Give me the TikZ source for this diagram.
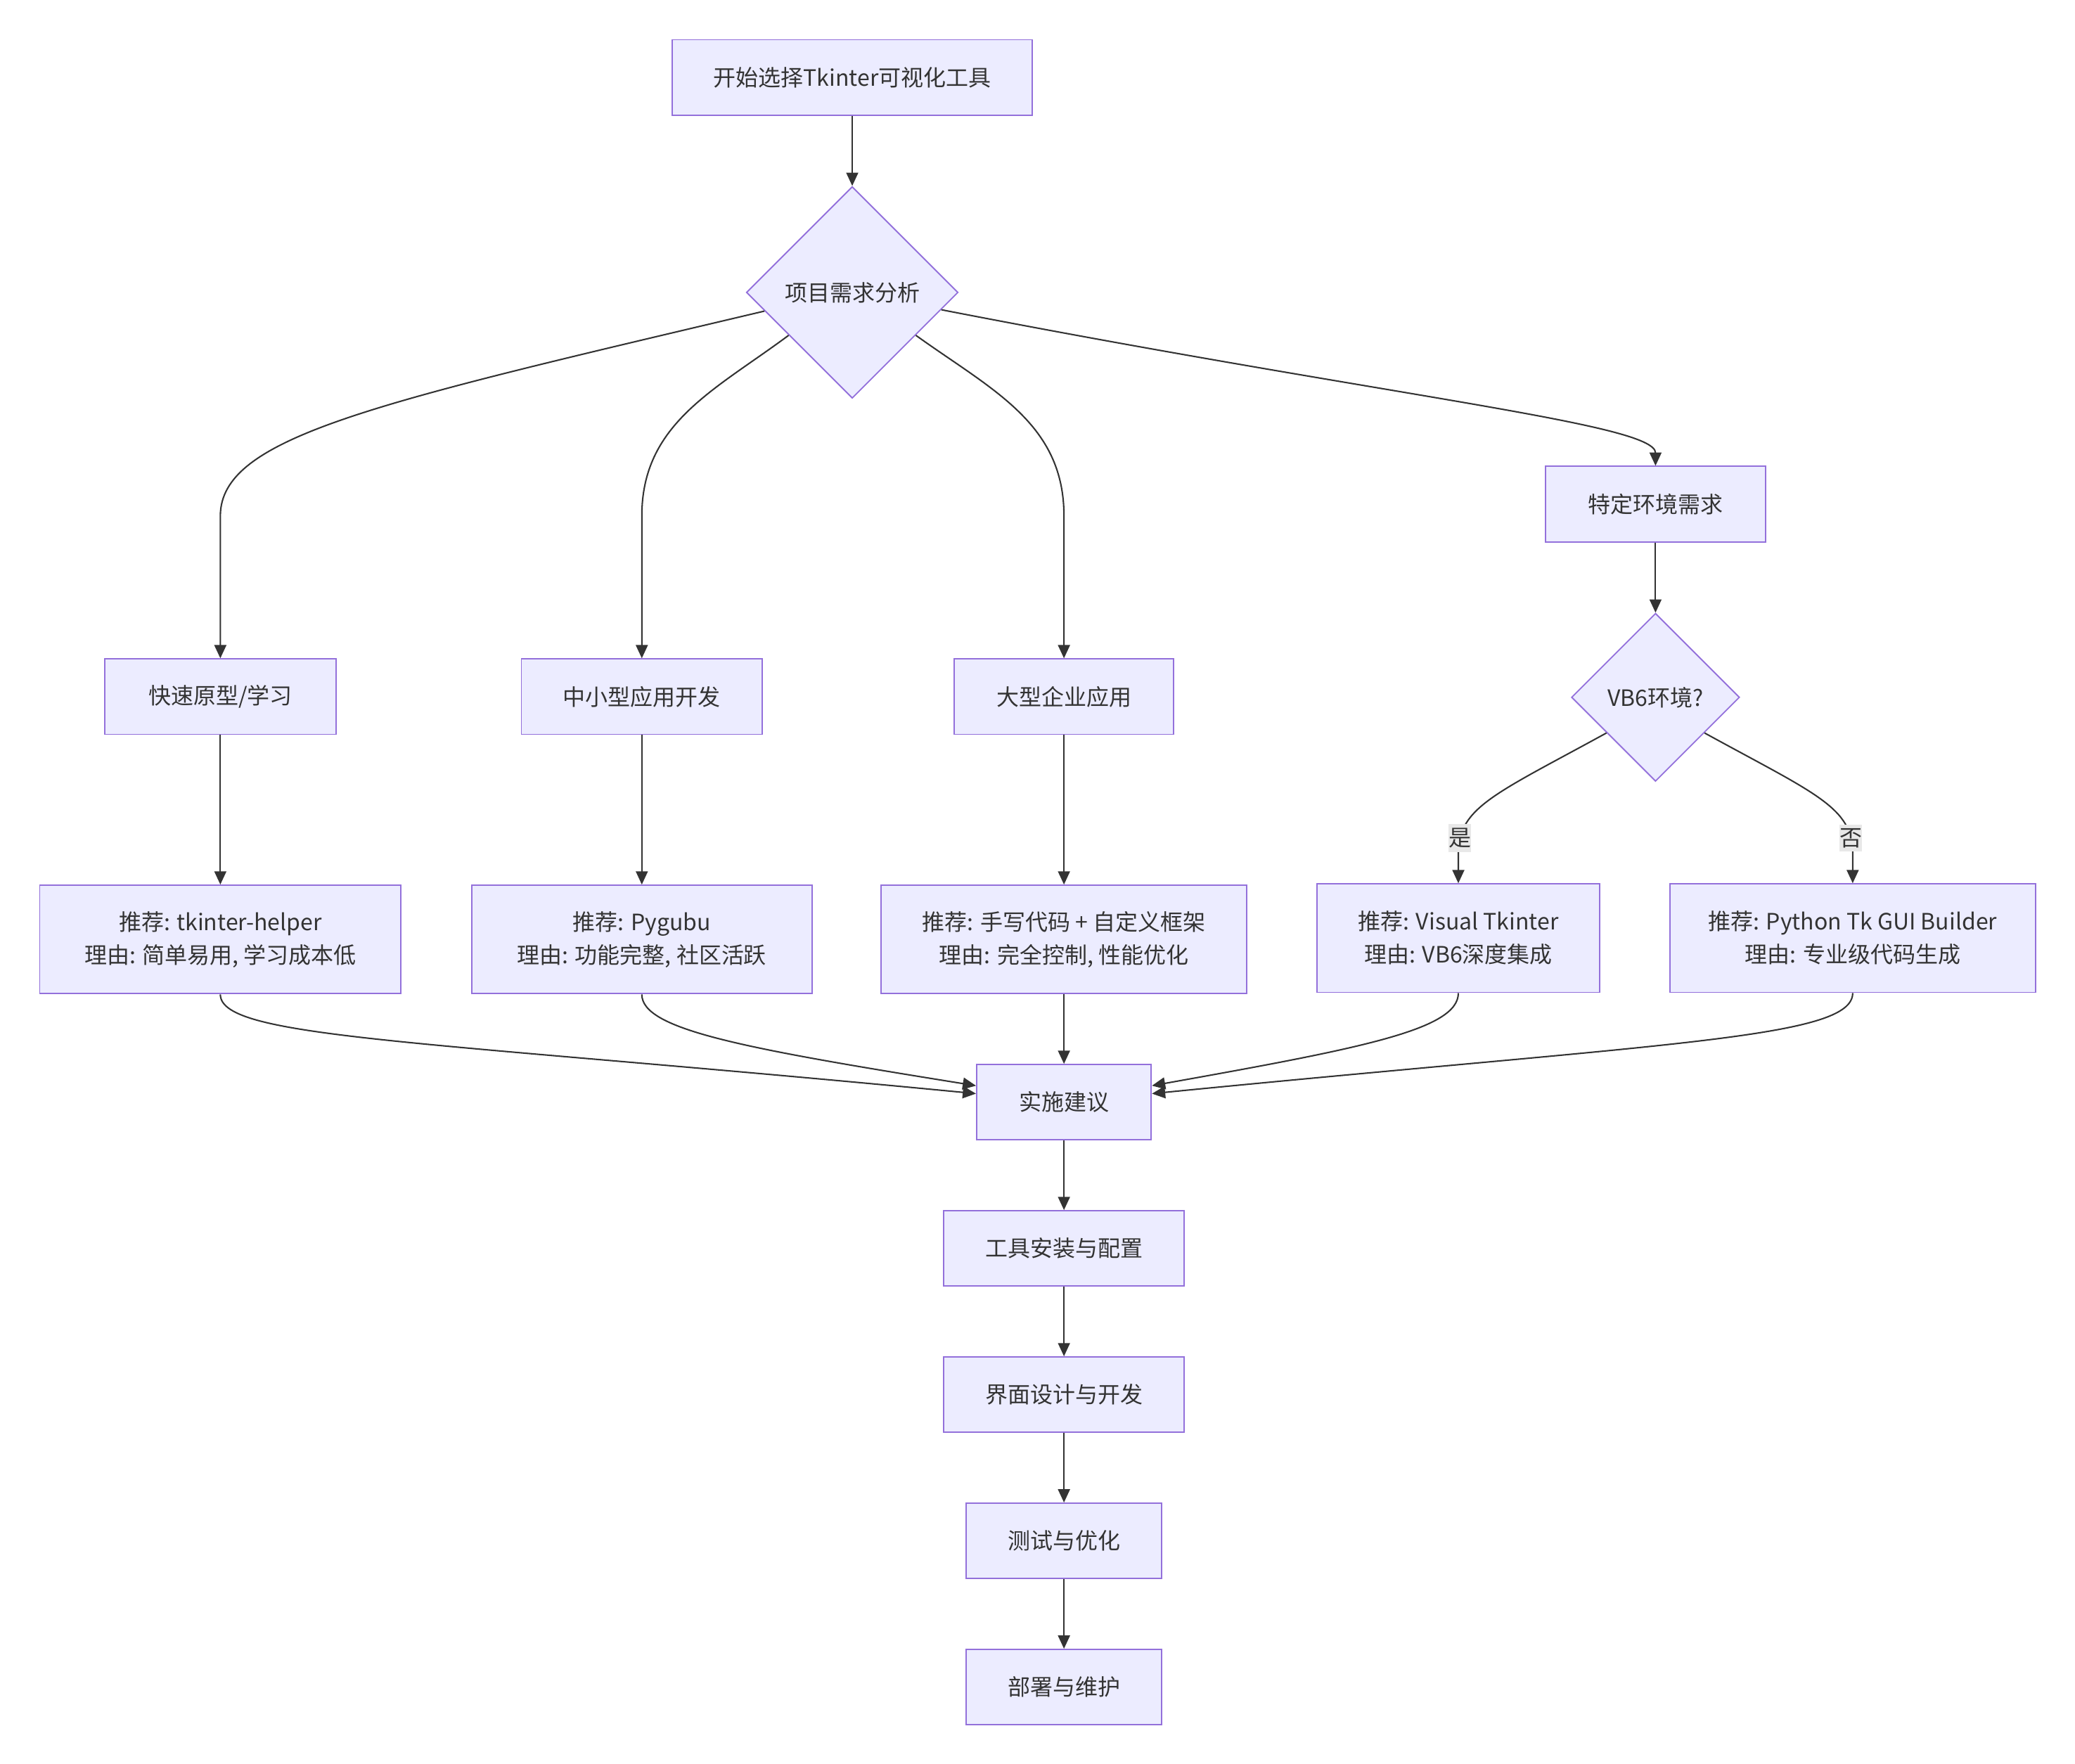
\documentclass[tikz,border=0pt]{standalone}
\usepackage{fontspec}
\setmainfont{Noto Sans CJK SC}
\usetikzlibrary{positioning,shapes.geometric,arrows.meta}
\definecolor{boxfill}{HTML}{ECECFF}
\definecolor{boxline}{HTML}{9370DB}
\definecolor{linkline}{HTML}{333333}
\definecolor{labelbg}{HTML}{E8E8E8}
\begin{document}
\begin{tikzpicture}[x=1pt,y=1pt,->,>={Triangle[length=10pt,width=9pt]},
    line width=1.1pt,draw=linkline,
    step node/.style={rectangle,draw=boxline,fill=boxfill,line width=1pt,minimum height=57pt,
      text=linkline,font=\fontsize{17}{25}\selectfont},
    advice node/.style={step node,minimum height=82pt,align=center},
    decision node/.style={diamond,draw=boxline,fill=boxfill,line width=1pt,inner sep=0pt,
      text=linkline,font=\fontsize{17}{25}\selectfont},
    edge label/.style={fill=labelbg,text=linkline,inner xsep=0pt,inner ysep=3pt,
      font=\fontsize{17}{20}\selectfont}]
\useasboundingbox (0,0) rectangle (1568,-1333);

\node[step node,minimum width=272pt] (start) at (644,-58.5) {开始选择Tkinter可视化工具};
\node[decision node,minimum width=160pt,minimum height=160pt] (d1) [below=53pt of start] {项目需求分析};

\node[step node,minimum width=175pt] (fast)  at (166.5,-526.5) {快速原型/学习};
\node[step node,minimum width=182pt] (mid)   at (485,-526.5)   {中小型应用开发};
\node[step node,minimum width=166pt] (large) at (804,-526.5)   {大型企业应用};
\node[step node,minimum width=166pt] (env)   at (1251,-381)    {特定环境需求};
\node[decision node,minimum width=127pt,minimum height=127pt] (vb6) [below=53pt of env] {VB6环境?};

\node[advice node,minimum width=273pt] (helper) [below=113pt of fast]  {推荐: tkinter-helper\\理由: 简单易用, 学习成本低};
\node[advice node,minimum width=257pt] (pygubu) [below=113pt of mid]   {推荐: Pygubu\\理由: 功能完整, 社区活跃};
\node[advice node,minimum width=276pt] (hand)   [below=113pt of large] {推荐: 手写代码 + 自定义框架\\理由: 完全控制, 性能优化};
\node[advice node,minimum width=214pt] (visual) at (1102,-709) {推荐: Visual Tkinter\\理由: VB6深度集成};
\node[advice node,minimum width=276pt] (pytk)   at (1400,-709) {推荐: Python Tk GUI Builder\\理由: 专业级代码生成};

\node[step node,minimum width=132pt] (impl)   [below=52.5pt of hand]  {实施建议};
\node[step node,minimum width=182pt] (tools)  [below=52.5pt of impl]  {工具安装与配置};
\node[step node,minimum width=182pt] (ui)     [below=52.5pt of tools] {界面设计与开发};
\node[step node,minimum width=148pt] (test)   [below=52.5pt of ui]    {测试与优化};
\node[step node,minimum width=148pt] (deploy) [below=52.5pt of test]  {部署与维护};

% branches of the analysis
\draw (start) -- (d1);
\draw (d1.192) .. controls (282,-305) and (166.5,-330) .. (166.5,-390) -- (fast);
\draw (d1.214) .. controls (540,-295) and (485,-320) .. (485,-390) -- (mid);
\draw (d1.326) .. controls (750,-295) and (804,-320) .. (804,-390) -- (large);
\draw (d1.349) .. controls (1050,-300) and (1251,-320) .. (env);
\draw (env) -- (vb6);
\draw (vb6.216) .. controls (1130,-600) and (1102,-610) .. (1102,-645) node[edge label,pos=0.88] {是} -- (visual);
\draw (vb6.324) .. controls (1372,-600) and (1400,-610) .. (1400,-645) node[edge label,pos=0.88] {否} -- (pytk);

\draw (fast) -- (helper);
\draw (mid) -- (pygubu);
\draw (large) -- (hand);

% everything meets at the advice step
\draw (helper.south) .. controls (166.5,-785) and (318,-786) .. ([yshift=6.5pt]impl.west);
\draw (pygubu.south) .. controls (485,-778) and (560,-792) .. ([yshift=12.5pt]impl.west);
\draw (hand) -- (impl);
\draw (visual.south) .. controls (1102,-778) and (1030,-792) .. ([yshift=12.5pt]impl.east);
\draw (pytk.south) .. controls (1400,-785) and (1260,-788) .. ([yshift=6.5pt]impl.east);

\foreach \a/\b in {impl/tools,tools/ui,ui/test,test/deploy}
  \draw (\a) -- (\b);
\end{tikzpicture}
\end{document}
